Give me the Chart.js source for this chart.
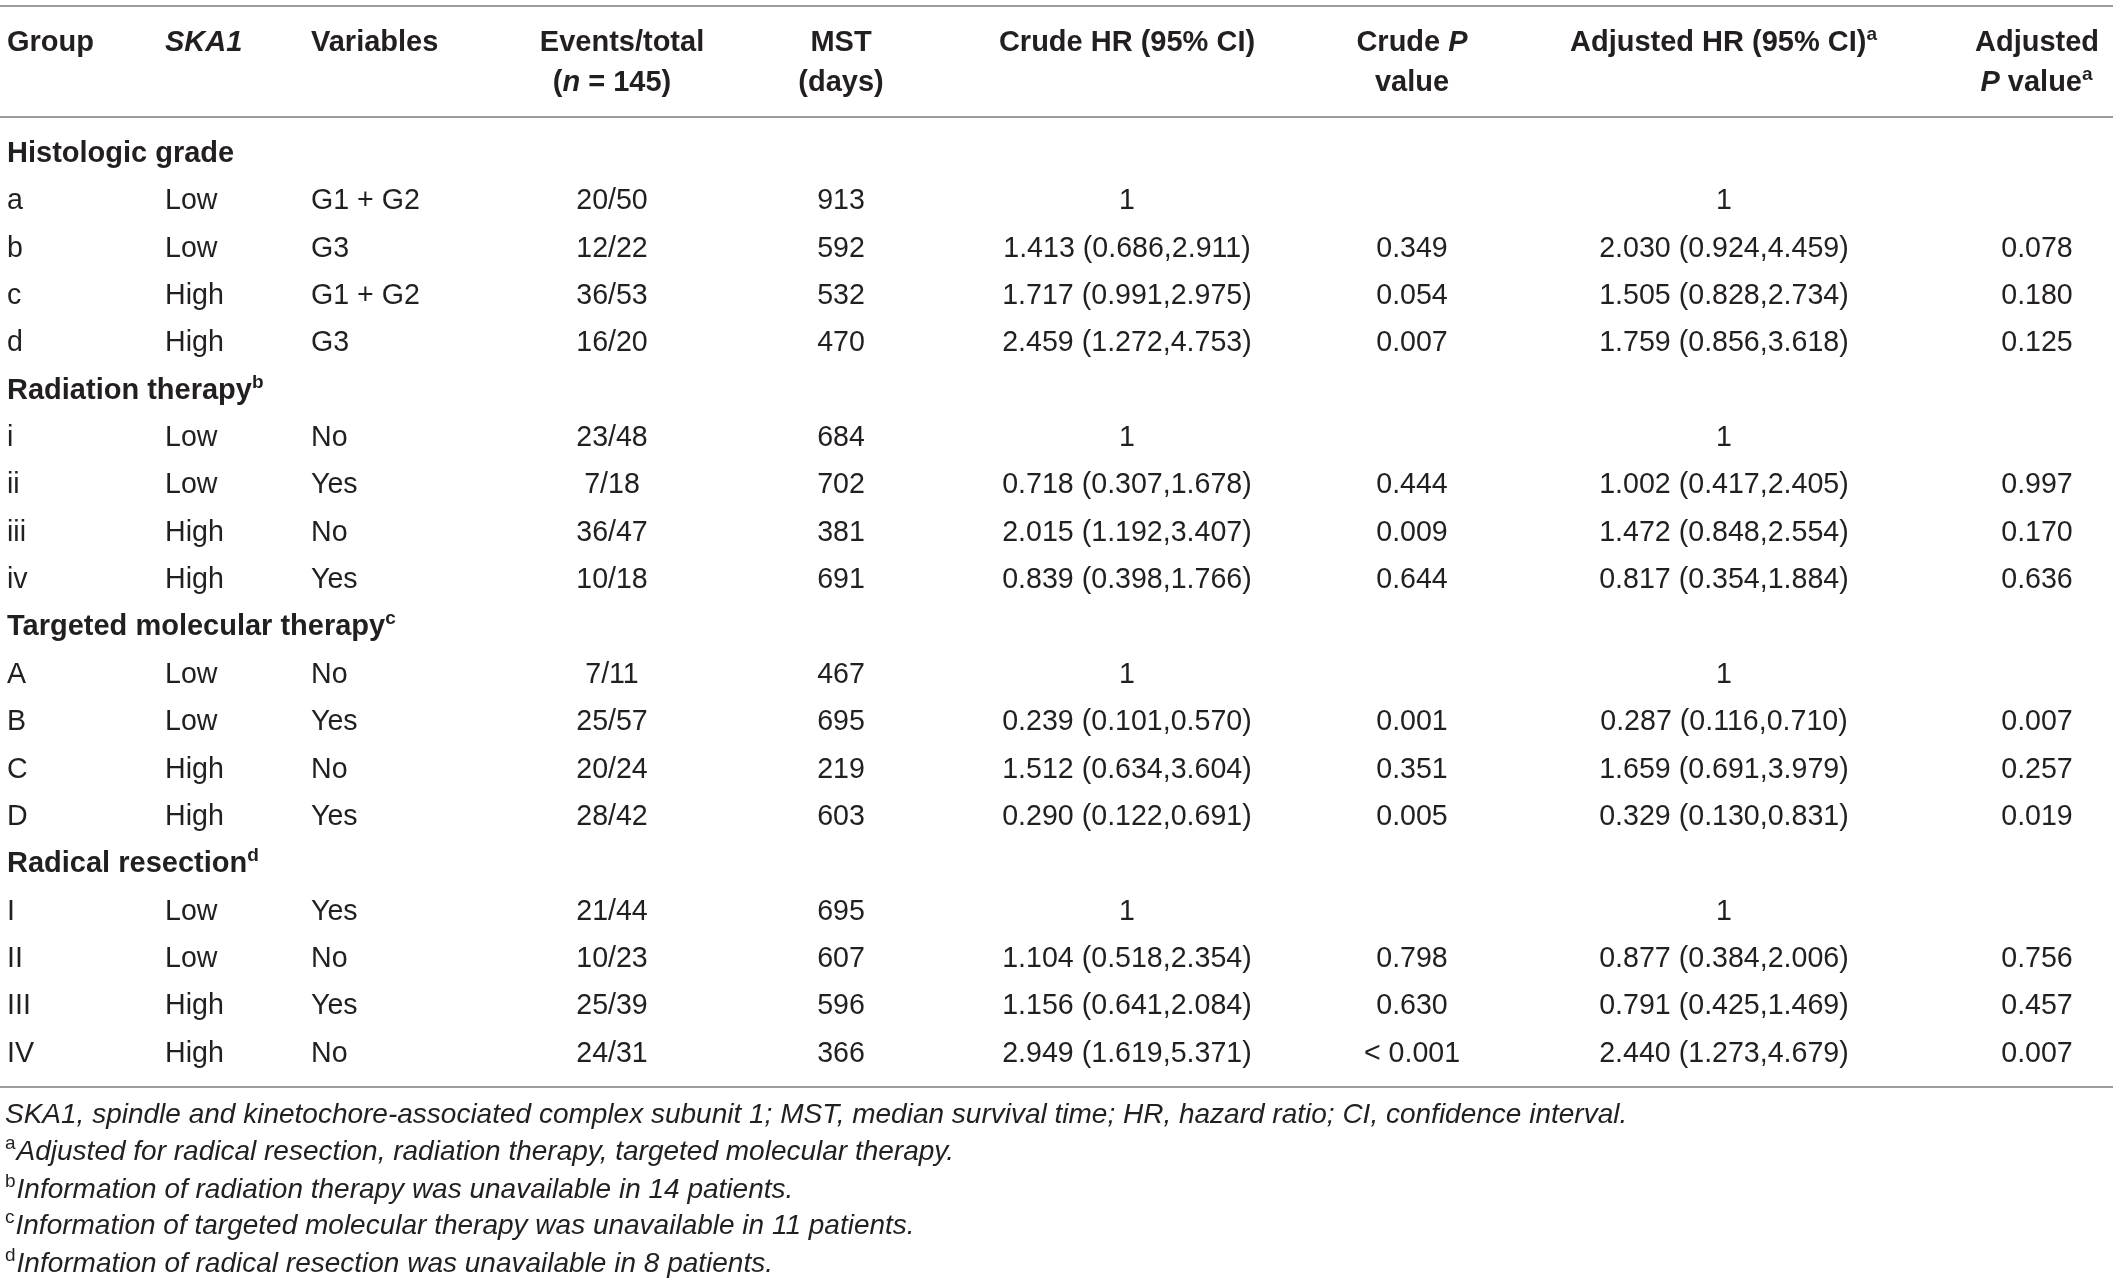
<!DOCTYPE html>
<html>
<head>
<meta charset="utf-8">
<title>SKA1 survival table</title>
<script src="https://cdn.jsdelivr.net/npm/chart.js@4.4.1/dist/chart.umd.min.js"></script>
<style>
  html, body { margin: 0; padding: 0; background: #fff; }
  #wrap { position: relative; width: 2118px; height: 1284px; }
</style>
</head>
<body>
<div id="wrap"><canvas id="table"></canvas></div>
<script>
// ---- data (read from the table) ----
// markup: _x_ = italic, ^a = superscript letter
const headerLine1 = ['Group', '_SKA1_', 'Variables', 'Events/total', 'MST', 'Crude HR (95% CI)', 'Crude _P_', 'Adjusted HR (95% CI)^a', 'Adjusted'];
const headerLine2 = ['', '', '', '(_n_ = 145)', '(days)', '', 'value', '', '_P_ value^a'];

const sections = ['Histologic grade', 'Radiation therapy^b', 'Targeted molecular therapy^c', 'Radical resection^d'];

const groupIds = ['a', 'b', 'c', 'd', 'i', 'ii', 'iii', 'iv', 'A', 'B', 'C', 'D', 'I', 'II', 'III', 'IV'];
const ska1Levels = ['Low', 'Low', 'High', 'High', 'Low', 'Low', 'High', 'High', 'Low', 'Low', 'High', 'High', 'Low', 'Low', 'High', 'High'];
const variables = ['G1 + G2', 'G3', 'G1 + G2', 'G3', 'No', 'Yes', 'No', 'Yes', 'No', 'Yes', 'No', 'Yes', 'Yes', 'No', 'Yes', 'No'];
const eventsTotal = ['20/50', '12/22', '36/53', '16/20', '23/48', '7/18', '36/47', '10/18', '7/11', '25/57', '20/24', '28/42', '21/44', '10/23', '25/39', '24/31'];
const mstDays = [913, 592, 532, 470, 684, 702, 381, 691, 467, 695, 219, 603, 695, 607, 596, 366];
const crudeHR = ['1', '1.413 (0.686,2.911)', '1.717 (0.991,2.975)', '2.459 (1.272,4.753)',
  '1', '0.718 (0.307,1.678)', '2.015 (1.192,3.407)', '0.839 (0.398,1.766)',
  '1', '0.239 (0.101,0.570)', '1.512 (0.634,3.604)', '0.290 (0.122,0.691)',
  '1', '1.104 (0.518,2.354)', '1.156 (0.641,2.084)', '2.949 (1.619,5.371)'];
const crudeP = ['', '0.349', '0.054', '0.007', '', '0.444', '0.009', '0.644', '', '0.001', '0.351', '0.005', '', '0.798', '0.630', '< 0.001'];
const adjustedHR = ['1', '2.030 (0.924,4.459)', '1.505 (0.828,2.734)', '1.759 (0.856,3.618)',
  '1', '1.002 (0.417,2.405)', '1.472 (0.848,2.554)', '0.817 (0.354,1.884)',
  '1', '0.287 (0.116,0.710)', '1.659 (0.691,3.979)', '0.329 (0.130,0.831)',
  '1', '0.877 (0.384,2.006)', '0.791 (0.425,1.469)', '2.440 (1.273,4.679)'];
const adjustedP = ['', '0.078', '0.180', '0.125', '', '0.997', '0.170', '0.636', '', '0.007', '0.257', '0.019', '', '0.756', '0.457', '0.007'];

const footnotes = [
  '_SKA1, spindle and kinetochore-associated complex subunit 1; MST, median survival time; HR, hazard ratio; CI, confidence interval._',
  '^a_Adjusted for radical resection, radiation therapy, targeted molecular therapy._',
  '^b_Information of radiation therapy was unavailable in 14 patients._',
  '^c_Information of targeted molecular therapy was unavailable in 11 patients._',
  '^d_Information of radical resection was unavailable in 8 patients._'
];

// ---- layout ----
const colX = [7, 165, 311, 612, 841, 1127, 1412, 1724, 2037];
const headShift = [0, 0, 0, 10, 0, 0, 0, 0, 0];
const colAlign = ['left', 'left', 'left', 'center', 'center', 'center', 'center', 'center', 'center'];
const headerRows = [-2.344, -1.50];
const ruleRows = [-3.29, -0.95, 19.54];
const noteRows = [20.30, 21.08, 21.87, 22.65, 23.44];
const FONT = '"Liberation Sans", Arial, Helvetica, sans-serif';
const INK = '#231f20';

// build the cell list: one entry per text cell, row index on y, column anchor on x
const columns = [groupIds, ska1Levels, variables, eventsTotal, mstDays, crudeHR, crudeP, adjustedHR, adjustedP];
const cells = [];
headerLine1.forEach((t, c) => cells.push({ x: colX[c] + headShift[c], y: headerRows[0], text: t, align: colAlign[c], kind: 'head' }));
headerLine2.forEach((t, c) => t && cells.push({ x: colX[c], y: headerRows[1], text: t, align: colAlign[c], kind: 'head' }));
sections.forEach((s, si) => {
  cells.push({ x: colX[0], y: si * 5, text: s, align: 'left', kind: 'head' });
  for (let j = 0; j < 4; j++) {
    const r = si * 4 + j;
    columns.forEach((col, c) => {
      const t = String(col[r]);
      if (t) cells.push({ x: colX[c], y: si * 5 + 1 + j, text: t, align: colAlign[c], kind: 'body' });
    });
  }
});
footnotes.forEach((t, i) => cells.push({ x: 5, y: noteRows[i], text: t, align: 'left', kind: 'note' }));

function parseRuns(text) {
  return text.split(/(_[^_]+_|\^\w)/).filter(Boolean).map((p) => {
    if (p[0] === '_' && p.length > 1 && p.endsWith('_')) return { t: p.slice(1, -1), italic: true };
    if (p[0] === '^') return { t: p.slice(1), sup: true };
    return { t: p };
  });
}

const styles = {
  head: { size: 29, bold: true },
  body: { size: 28.6, bold: false },
  note: { size: 28, bold: false }
};

function fontFor(run, st) {
  const size = run.sup ? 19 : st.size;
  return (run.italic ? 'italic ' : '') + (st.bold ? 'bold ' : '') + size + 'px ' + FONT;
}

const tablePlugin = {
  id: 'tableText',
  afterDatasetsDraw(chart) {
    const { ctx, scales: { x, y } } = chart;
    ctx.save();
    // horizontal rules
    ctx.strokeStyle = '#9c9c9c';
    ctx.lineWidth = 2;
    ruleRows.forEach((r) => {
      const py = Math.round(y.getPixelForValue(r));
      ctx.beginPath();
      ctx.moveTo(x.getPixelForValue(0), py);
      ctx.lineTo(x.getPixelForValue(2113), py);
      ctx.stroke();
    });
    // text cells
    ctx.fillStyle = INK;
    ctx.textBaseline = 'alphabetic';
    ctx.textAlign = 'left';
    cells.forEach((cell) => {
      const st = styles[cell.kind];
      const runs = parseRuns(cell.text);
      let w = 0;
      runs.forEach((run) => { ctx.font = fontFor(run, st); run.w = ctx.measureText(run.t).width; w += run.w + (run.sup ? 1 : 0); });
      let px = x.getPixelForValue(cell.x);
      if (cell.align === 'center') px -= w / 2;
      const py = y.getPixelForValue(cell.y);
      runs.forEach((run) => {
        ctx.font = fontFor(run, st);
        ctx.fillText(run.t, px, run.sup ? py - 11 : py);
        px += run.w + (run.sup ? 1 : 0);
      });
    });
    ctx.restore();
  }
};

new Chart(document.getElementById('table'), {
  type: 'scatter',
  data: {
    datasets: [{
      label: 'cells',
      data: cells.map((c) => ({ x: c.x, y: c.y })),
      pointRadius: 0,
      pointHoverRadius: 0
    }]
  },
  options: {
    responsive: true,
    maintainAspectRatio: false,
    animation: false,
    layout: { padding: 0 },
    plugins: { legend: { display: false }, tooltip: { enabled: false } },
    scales: {
      x: { type: 'linear', min: 0, max: 2118, display: false },
      y: { type: 'linear', reverse: true, min: -3.4213, max: 23.696, display: false }
    }
  },
  plugins: [tablePlugin]
});
</script>
</body>
</html>
